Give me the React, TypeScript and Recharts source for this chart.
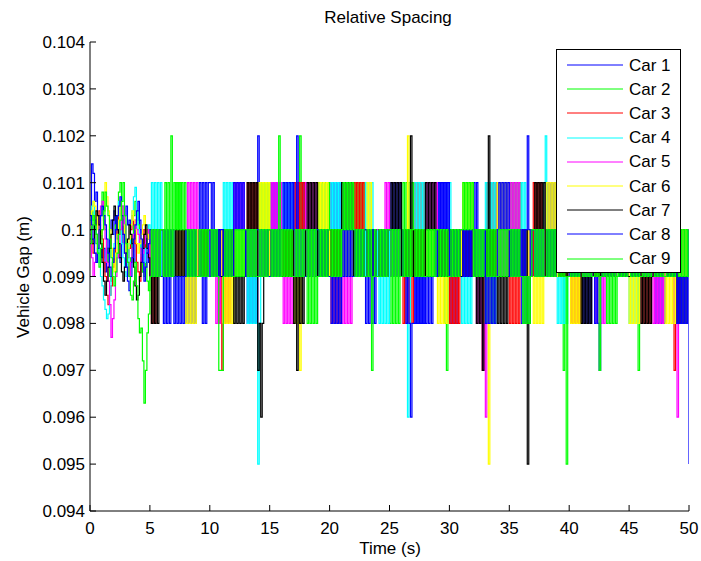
import React from 'react';
import { LineChart, Line, XAxis, YAxis, Legend } from 'recharts';

const seriesNames = ['Car 1', 'Car 2', 'Car 3', 'Car 4', 'Car 5', 'Car 6', 'Car 7', 'Car 8', 'Car 9'];
const seriesKeys = ['c1', 'c2', 'c3', 'c4', 'c5', 'c6', 'c7', 'c8', 'c9'];
const seriesColors = ['#0000ff', '#00ff00', '#ff0000', '#00ffff', '#ff00ff', '#ffff00', '#000000', '#0000ff', '#00ff00'];

const xTicks = [0, 5, 10, 15, 20, 25, 30, 35, 40, 45, 50];
const yTicks = [0.094, 0.095, 0.096, 0.097, 0.098, 0.099, 0.1, 0.101, 0.102, 0.103, 0.104];

// Sample spacing (s)
const STEP = 0.125;

// First 5 s (t = 0 .. 4.875), gap in units of 0.0001 m
const car1Early = [1000, 1014, 1012, 1006, 1008, 1003, 999, 997, 994, 996, 991, 993, 996, 1000, 1002, 999, 1004, 1001, 998, 994, 993, 997, 999, 1003, 1005, 1001, 1002, 998, 996, 993, 999, 1002, 1004, 1000, 993, 991, 996, 998, 995, 993];
const car2Early = [998, 1004, 1002, 1001, 997, 995, 1001, 1003, 1008, 1005, 1000, 996, 993, 990, 989, 993, 996, 1001, 1003, 1008, 1010, 1005, 1002, 998, 995, 992, 990, 994, 998, 1003, 1006, 1004, 1001, 997, 994, 991, 990, 993, 989, 987];
const car3Early = [1000, 997, 995, 999, 1001, 1003, 1004, 1000, 998, 993, 990, 986, 984, 986, 988, 992, 995, 999, 1002, 1005, 1006, 1002, 999, 995, 992, 994, 996, 1000, 1003, 1001, 997, 993, 991, 989, 994, 997, 1000, 996, 998, 999];
const car4Early = [1002, 1005, 1006, 1002, 999, 996, 993, 990, 988, 985, 983, 981, 982, 986, 990, 994, 997, 1000, 1003, 1006, 1000, 997, 994, 991, 990, 993, 997, 1001, 1004, 1007, 1009, 1004, 1000, 997, 995, 993, 993, 996, 998, 1001];
const car5Early = [999, 994, 990, 993, 995, 999, 1002, 1005, 1006, 1002, 998, 993, 989, 984, 977, 981, 985, 990, 994, 997, 1000, 1003, 1005, 1001, 997, 993, 990, 993, 996, 999, 1002, 1000, 999, 996, 993, 995, 997, 999, 1000, 998];
const car6Early = [1001, 1004, 1006, 1005, 1003, 1000, 997, 999, 1000, 1005, 1010, 1007, 1004, 1000, 996, 993, 991, 995, 999, 1002, 1005, 1003, 1001, 997, 994, 996, 998, 1001, 1004, 1002, 1000, 997, 995, 997, 999, 1001, 1003, 1000, 999, 998];
const car7Early = [1000, 998, 997, 1001, 1004, 1003, 1001, 997, 993, 989, 986, 989, 992, 996, 999, 1002, 1005, 1003, 1000, 997, 994, 991, 989, 992, 995, 998, 1001, 999, 997, 992, 988, 985, 986, 990, 993, 996, 999, 1001, 996, 994];
const car8Early = [1003, 1001, 998, 995, 993, 996, 1000, 1003, 1005, 1003, 1001, 998, 995, 992, 990, 993, 996, 1000, 1003, 1005, 1007, 1003, 999, 995, 992, 989, 987, 990, 994, 998, 1001, 1004, 1006, 1002, 998, 993, 989, 992, 995, 997];
const car9Early = [997, 1000, 1003, 1001, 999, 995, 992, 996, 1000, 1004, 1008, 1005, 1003, 998, 994, 990, 988, 991, 995, 999, 1002, 1006, 1010, 1003, 997, 993, 990, 986, 985, 989, 993, 988, 981, 978, 979, 972, 963, 970, 978, 982];

// t = 5 .. 50 (every 0.125 s, one group per second), quantized gap: digit d -> 0.095 + d*0.001 m
const car1Late =
  '45454545 43434345 54545454 34343434 56565656 65654545 45454545 54545454 43434343 74545454 ' +
  '56565656 54545454 65656565 45454545 54545454 56565656 45454545 54545454 34343434 54545454 ' +
  '56565656 45454545 43434343 54545454 65656565 43434345 54545454 65654545 45454545 54545454 ' +
  '45454545 34343454 54545454 56565656 45454545 54545454 34343434 54545454 45454545 54545454 ' +
  '45454545 54545454 43434343 54545454 45454545 0';
const car2Late =
  '54545454 45656575 65656545 45454545 54545454 45454545 54545454 45454545 54545454 56565656 ' +
  '45454545 54545454 45457545 43434343 56565656 45454545 54545454 65656565 45454545 54545454 ' +
  '34343434 56565656 45454545 54545454 45454324 54545454 45454545 54545454 34343434 54545454 ' +
  '56565656 45454545 54545454 45454545 45452454 54545454 45454545 54545454 43434343 54545454 ' +
  '45454524 54545454 45454545 54545454 45454545 5';
const car3Late =
  '43434545 54545454 45454545 54545454 45454545 54545434 23434345 54545454 56565656 45454545 ' +
  '54545454 45454545 56565656 45454545 54545454 43434343 54545454 65656565 45454545 54545454 ' +
  '45454545 43434343 56565656 45454545 54545454 34343434 54545454 45454524 56565656 45454545 ' +
  '34343434 54545454 65656565 45454545 54545454 43434343 54545454 45454545 54545454 45454545 ' +
  '54545454 34343434 54545454 45454524 54545454 4';
const car4Late =
  '56565656 45454545 54545454 45454545 54545454 45454545 56565656 45454545 43434343 03454545 ' +
  '54545454 65656565 45454545 54545454 45454545 56565656 45454545 54545454 65656545 43434343 ' +
  '54545454 45451345 56565656 45454545 54545454 65454545 34343434 54545454 65656565 45454545 ' +
  '54545454 65654545 54545456 75454545 34343434 54545454 45454545 54545454 45454545 54545454 ' +
  '34343434 54545454 45454545 54545454 45454545 4';
const car5Late =
  '45454545 54545454 45454545 56565656 45454545 54543434 54545454 65656565 45454545 54545454 ' +
  '56565656 43434343 54545454 65656565 45454545 54545454 34343434 54545454 45454545 54545656 ' +
  '54545454 45454545 54545454 56565656 45454545 54545454 45454545 54343423 13454545 54545454 ' +
  '65656565 45454545 54545454 45454545 56565656 45454545 54545454 43434343 54545454 45454545 ' +
  '54545454 45454545 34343434 54545434 13454545 5';
const car6Late =
  '54545454 45454545 54545454 34343434 54545454 45454545 43434343 54545454 45454545 56565656 ' +
  '45454545 54545454 34342454 45454545 65656565 45454545 54545454 45454545 56565454 45454545 ' +
  '54545454 45457545 54545454 45454545 34343434 54545454 56565656 45454545 54045454 65656565 ' +
  '45454545 54545454 34343434 56565656 45454545 43434343 54545454 45454545 54545454 45454545 ' +
  '34343434 54545454 45454545 34343434 54545454 4';
const car7Late =
  '43434345 54545454 45454545 54545454 45454545 54545454 45454545 34343434 56565656 23134545 ' +
  '54545454 45454545 34243434 56565656 45454545 54545454 65656565 45454545 54545454 45454545 ' +
  '56565656 45454574 54545454 65656565 45454545 54545454 45454545 54343424 54745454 34343434 ' +
  '54545454 45450345 56565656 45454545 54545454 45454545 34343434 54545454 45454545 54545454 ' +
  '45454545 34343434 54545454 45454545 34343434 4';
const car8Late =
  '54545454 45454545 34343434 54545454 45434345 45454545 54545454 65656565 45454545 54545454 ' +
  '45454545 56565656 54745454 45454545 54545454 43434343 54545454 45454545 54545454 45454545 ' +
  '54545454 45434313 34343434 34343454 56565656 45454545 54545454 45454545 34343434 56565656 ' +
  '45454545 45457545 54545454 45454545 56565656 45454545 54545454 43432454 54545454 45454545 ' +
  '54545454 45454545 54545454 45454545 34343434 5';
const car9Late =
  '45454545 54545454 56565656 54545454 45454545 54545422 24545454 45454545 54545454 45454545 ' +
  '54545474 54545454 45454545 54545454 45454545 54545454 56565656 54545454 45452454 45454545 ' +
  '54545454 45454545 54545454 45454545 54545454 45454545 56565656 45454545 54545454 45454545 ' +
  '54545454 43434345 54545454 45454545 54545404 45454545 54545454 45452454 54545454 45454545 ' +
  '54545454 45454545 54545454 45454545 54545454 5';

const earlyAll = [car1Early, car2Early, car3Early, car4Early, car5Early, car6Early, car7Early, car8Early, car9Early];
const lateAll = [car1Late, car2Late, car3Late, car4Late, car5Late, car6Late, car7Late, car8Late, car9Late].map((s) => s.replace(/\s/g, ''));

const buildData = () => {
  const n = earlyAll[0].length + lateAll[0].length;
  const rows: any[] = [];
  for (let i = 0; i < n; i++) {
    const row: any = { t: Math.round(i * STEP * 1000) / 1000 };
    for (let k = 0; k < seriesKeys.length; k++) {
      const e = earlyAll[k];
      if (i < e.length) {
        row[seriesKeys[k]] = e[i] / 10000;
      } else {
        const ch = lateAll[k][i - e.length];
        if (ch !== undefined) row[seriesKeys[k]] = (95 + Number(ch)) / 1000;
      }
    }
    rows.push(row);
  }
  return rows;
};
const data = buildData();

const FONT = '"Liberation Sans", Arial, Helvetica, sans-serif';
const FS = 17;

const fmtY = (v: number) => String(parseFloat(v.toFixed(3)));

const LegendBox = (props: any) => {
  const payload = (props.payload || []) as any[];
  return (
    <div
      style={{
        width: 125,
        height: 224,
        boxSizing: 'border-box',
        border: '1px solid #000',
        background: '#fff',
        paddingTop: 3,
        fontFamily: FONT,
        fontSize: FS,
        color: '#000',
      }}
    >
      {payload.map((p: any) => (
        <div key={p.value} style={{ height: 24.2, display: 'flex', alignItems: 'center' }}>
          <svg width={56} height={4} style={{ marginLeft: 10, display: 'block' }}>
            <line x1={0} y1={2} x2={56} y2={2} stroke={p.color} strokeWidth={1} />
          </svg>
          <span style={{ marginLeft: 6, lineHeight: 1 }}>{p.value}</span>
        </div>
      ))}
    </div>
  );
};

export default function App() {
  return (
    <div style={{ position: 'fixed', left: 0, top: 0, width: 701, height: 561, fontFamily: FONT, background: '#fff', overflow: 'hidden' }}>
      <LineChart
        width={701}
        height={561}
        data={data}
        margin={{ top: 42, right: 12, left: 0, bottom: 0 }}
        style={{ fontFamily: FONT }}
      >
        <XAxis
          dataKey="t"
          type="number"
          domain={[0, 50]}
          ticks={xTicks}
          height={50}
          stroke="#000"
          tickSize={-6}
          tickMargin={17}
          tick={{ fill: '#000', fontSize: FS }}
          allowDataOverflow
        />
        <YAxis
          type="number"
          domain={[0.094, 0.104]}
          ticks={yTicks}
          width={90}
          stroke="#000"
          tickSize={-6}
          tickMargin={11}
          tick={{ fill: '#000', fontSize: FS }}
          tickFormatter={fmtY}
          allowDataOverflow
          interval={0}
        />
        {seriesKeys.map((k, i) => (
          <Line
            key={k}
            dataKey={k}
            name={seriesNames[i]}
            stroke={seriesColors[i]}
            strokeWidth={1.2}
            dot={false}
            activeDot={false}
            type={i >= 0 ? 'stepAfter' : 'linear'}
            isAnimationActive={false}
          />
        ))}
        <Legend
          layout="vertical"
          align="center"
          verticalAlign="middle"
          width={125}
          height={224}
          wrapperStyle={{ top: 49, left: 556, width: 125, height: 224 }}
          content={<LegendBox />}
        />
      </LineChart>
      <div
        style={{
          position: 'absolute',
          left: 388,
          top: 18,
          transform: 'translate(-50%, -50%)',
          fontSize: FS,
          whiteSpace: 'nowrap',
          color: '#000',
        }}
      >
        Relative Spacing
      </div>
      <div
        style={{
          position: 'absolute',
          left: 390,
          top: 549,
          transform: 'translate(-50%, -50%)',
          fontSize: FS,
          whiteSpace: 'nowrap',
          color: '#000',
        }}
      >
        Time (s)
      </div>
      <div
        style={{
          position: 'absolute',
          left: 24,
          top: 277,
          transform: 'translate(-50%, -50%) rotate(-90deg)',
          fontSize: FS,
          whiteSpace: 'nowrap',
          color: '#000',
        }}
      >
        Vehicle Gap (m)
      </div>
    </div>
  );
}
